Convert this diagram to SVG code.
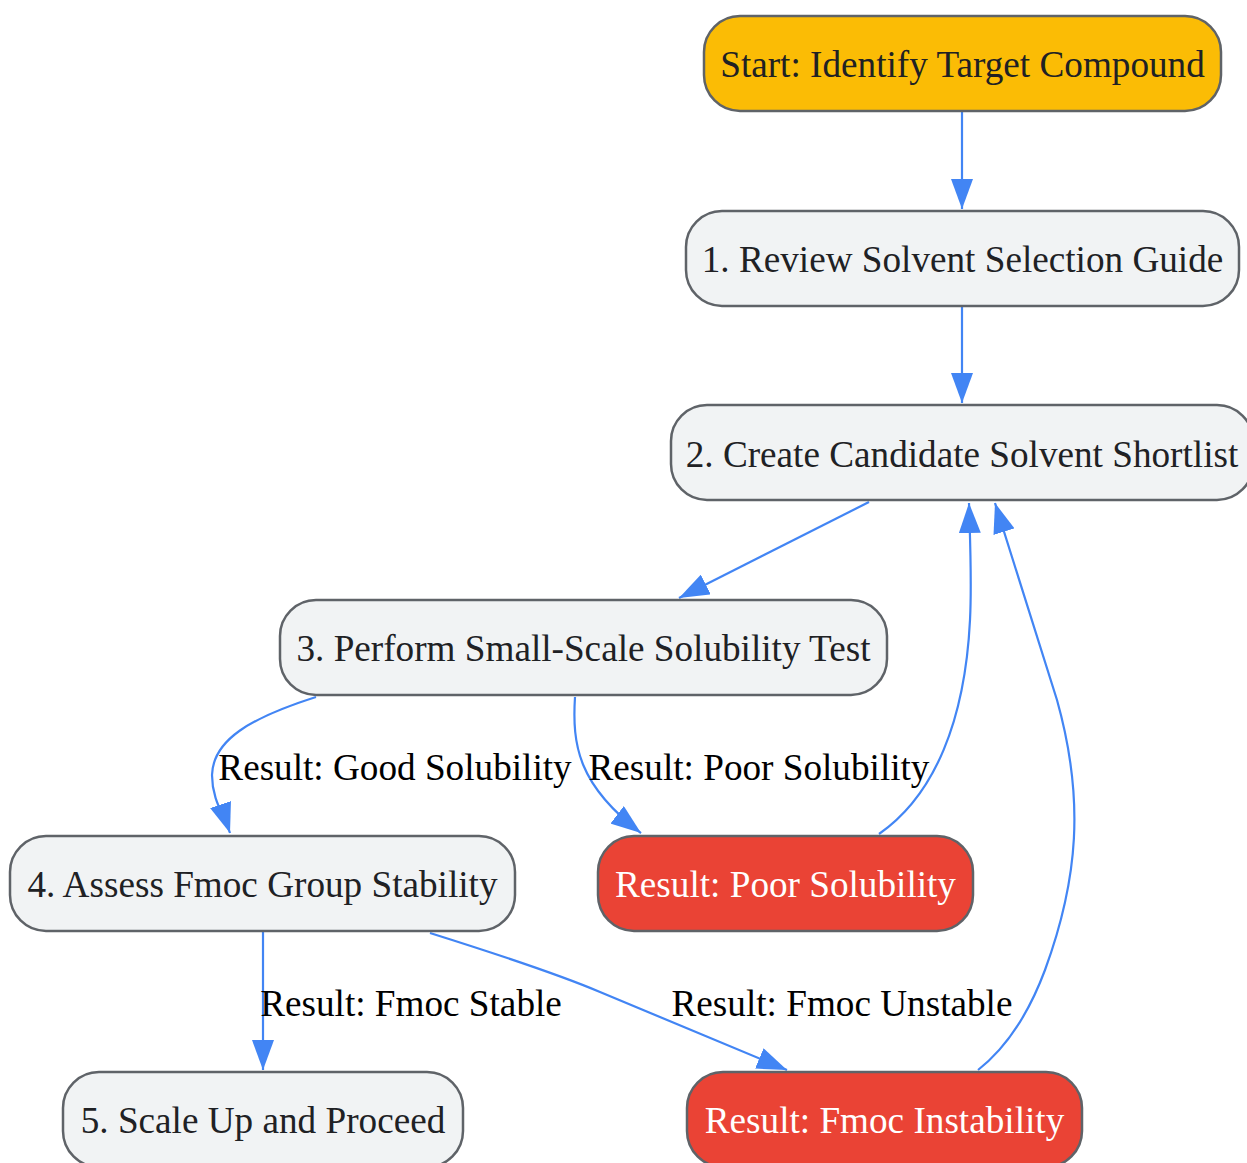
<svg xmlns="http://www.w3.org/2000/svg" width="1247" height="1163" viewBox="0 0 1247 1163">
<style>
.node rect{stroke:#5f6368;stroke-width:2.5}
.n rect{fill:#f1f3f4}
.s rect{fill:#fbbc05}
.r rect{fill:#ea4335}
.node text{font-family:"Liberation Serif","Times New Roman",serif;font-size:37.2px;text-anchor:middle;fill:#202124}
.r text{fill:#ffffff}
.edge{fill:none;stroke:#4285f4;stroke-width:2.2;marker-end:url(#ah)}
.lbl{font-family:"Liberation Serif","Times New Roman",serif;font-size:37.2px;text-anchor:middle;fill:#000000}
</style>
<defs>
<marker id="ah" viewBox="0 0 30 22" refX="30" refY="11" markerWidth="30" markerHeight="22" markerUnits="userSpaceOnUse" orient="auto">
<path d="M0,0 L30,11 L0,22 z" fill="#4285f4"/>
</marker>
</defs>
<rect width="1247" height="1163" fill="#ffffff"/>
<g id="connectors">
<path class="edge" d="M962,111 L962,209"/>
<path class="edge" d="M962,306 L962,403"/>
<path class="edge" d="M869,502 L679,598"/>
<path class="edge" d="M316,697 C250,718 213,740 212,775 C212,800 224,815 230,833"/>
<path class="edge" d="M575,697 C572,745 578,785 641,833"/>
<path class="edge" d="M879,834 C935,795 965,720 970,620 C972,580 970,540 969,503"/>
<path class="edge" d="M978,1070 C1010,1045 1030,1010 1045,970 C1078,880 1085,800 1057,700 L995,503"/>
<path class="edge" d="M263,931 L263,1070"/>
<path class="edge" d="M430,933 C500,955 560,975 600,992 L787,1070"/>
</g>
<g id="edge-labels">
<text class="lbl" x="395" y="780">Result: Good Solubility</text>
<text class="lbl" x="759" y="780">Result: Poor Solubility</text>
<text class="lbl" x="411" y="1016">Result: Fmoc Stable</text>
<text class="lbl" x="842" y="1016">Result: Fmoc Unstable</text>
</g>
<g id="start" class="node s">
<rect x="704" y="16" width="517" height="95" rx="36" ry="36"/>
<text x="962.5" y="77">Start: Identify Target Compound</text>
</g>
<g id="step1" class="node n">
<rect x="686" y="211" width="553" height="95" rx="36" ry="36"/>
<text x="962.5" y="272">1. Review Solvent Selection Guide</text>
</g>
<g id="step2" class="node n">
<rect x="671" y="405" width="582" height="95" rx="36" ry="36"/>
<text x="962" y="467">2. Create Candidate Solvent Shortlist</text>
</g>
<g id="step3" class="node n">
<rect x="280" y="600" width="607" height="95" rx="36" ry="36"/>
<text x="583.5" y="661">3. Perform Small-Scale Solubility Test</text>
</g>
<g id="step4" class="node n">
<rect x="10" y="836" width="505" height="95" rx="36" ry="36"/>
<text x="262.5" y="897">4. Assess Fmoc Group Stability</text>
</g>
<g id="poor" class="node r">
<rect x="598" y="836" width="375" height="95" rx="36" ry="36"/>
<text x="785.5" y="897">Result: Poor Solubility</text>
</g>
<g id="step5" class="node n">
<rect x="63" y="1072" width="400" height="95" rx="36" ry="36"/>
<text x="263" y="1133">5. Scale Up and Proceed</text>
</g>
<g id="instab" class="node r">
<rect x="687" y="1072" width="395" height="95" rx="36" ry="36"/>
<text x="884.5" y="1133">Result: Fmoc Instability</text>
</g>
</svg>
